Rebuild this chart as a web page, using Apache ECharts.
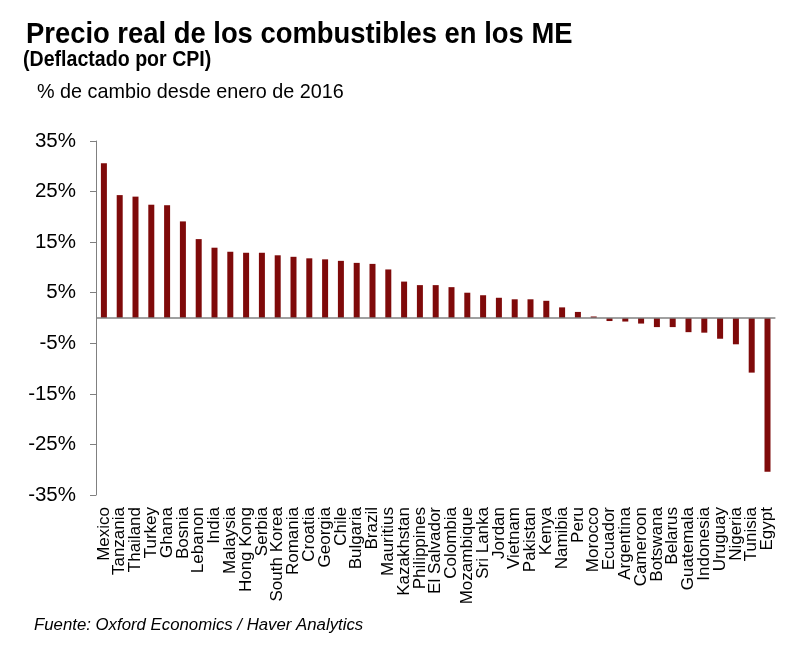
<!DOCTYPE html>
<html>
<head>
<meta charset="utf-8">
<script src="https://cdn.jsdelivr.net/npm/echarts@6/dist/echarts.min.js"></script>
<style>
html,body{margin:0;padding:0;background:#fff;}
#chart{width:800px;height:657px;}
</style>
</head>
<body>
<div id="chart"></div>
<script>
const countries = ["Mexico","Tanzania","Thailand","Turkey","Ghana","Bosnia","Lebanon","India","Malaysia","Hong Kong","Serbia","South Korea","Romania","Croatia","Georgia","Chile","Bulgaria","Brazil","Mauritius","Kazakhstan","Philippines","El Salvador","Colombia","Mozambique","Sri Lanka","Jordan","Vietnam","Pakistan","Kenya","Namibia","Peru","Morocco","Ecuador","Argentina","Cameroon","Botswana","Belarus","Guatemala","Indonesia","Uruguay","Nigeria","Tunisia","Egypt"];
const changePct = [30.6,24.3,24.0,22.4,22.3,19.1,15.6,13.9,13.1,12.9,12.9,12.4,12.1,11.8,11.6,11.3,10.9,10.7,9.6,7.2,6.5,6.5,6.1,5.0,4.5,4.0,3.7,3.7,3.4,2.1,1.2,0.3,-0.6,-0.7,-1.1,-1.8,-1.8,-2.8,-2.9,-4.1,-5.2,-10.8,-30.4];
const yTicks = [-35,-25,-15,-5,5,15,25,35];

const titleText = "Precio real de los combustibles en los ME";
const subtitleText = "(Deflactado por CPI)";
const unitText = "% de cambio desde enero de 2016";
const sourceText = "Fuente: Oxford Economics / Haver Analytics";

const chart = echarts.init(document.getElementById('chart'), null, {renderer:'canvas'});
const FONT = 'Arial, "Liberation Sans", sans-serif';
chart.setOption({
  animation: false,
  backgroundColor: '#ffffff',
  grid: {left: 96, right: 24.6, top: 141, bottom: 162, containLabel: false},
  graphic: [
    {type:'text', left: 26, top: 20, scaleY: 1.08, style:{text: titleText, font: 'bold 27.4px ' + FONT, fill:'#000'}},
    {type:'text', left: 23, top: 49, scaleY: 1.08, style:{text: subtitleText, font: 'bold 19.6px ' + FONT, fill:'#000'}},
    {type:'text', left: 37, top: 83, style:{text: unitText, font: '19.8px ' + FONT, fill:'#000'}},
    {type:'text', left: 34, top: 617, style:{text: sourceText, font: 'italic 16.8px ' + FONT, fill:'#000'}}
  ],
  xAxis: {
    type: 'category',
    data: countries,
    axisLine: {show: false, onZero: false},
    axisTick: {show: false},
    axisLabel: {rotate: 90, interval: 0, fontSize: 17, fontFamily: FONT, color: '#000', margin: 12}
  },
  yAxis: {
    type: 'value',
    min: -35, max: 35,
    axisLine: {show: true, lineStyle: {color: '#808080', width: 1}},
    axisTick: {show: true, length: 6, customValues: yTicks, lineStyle: {color: '#808080'}},
    axisLabel: {customValues: yTicks, formatter: v => v + '%', fontSize: 20.5, fontFamily: FONT, color: '#000', margin: 20},
    splitLine: {show: false}
  },
  series: [{
    type: 'bar',
    data: changePct,
    barWidth: 6,
    itemStyle: {color: '#7f0a0a'},
    markLine: {
      silent: true, symbol: 'none', label: {show: false},
      lineStyle: {color: '#808080', width: 1.5, type: 'solid'},
      data: [{yAxis: 0}]
    }
  }]
});
</script>
</body>
</html>
